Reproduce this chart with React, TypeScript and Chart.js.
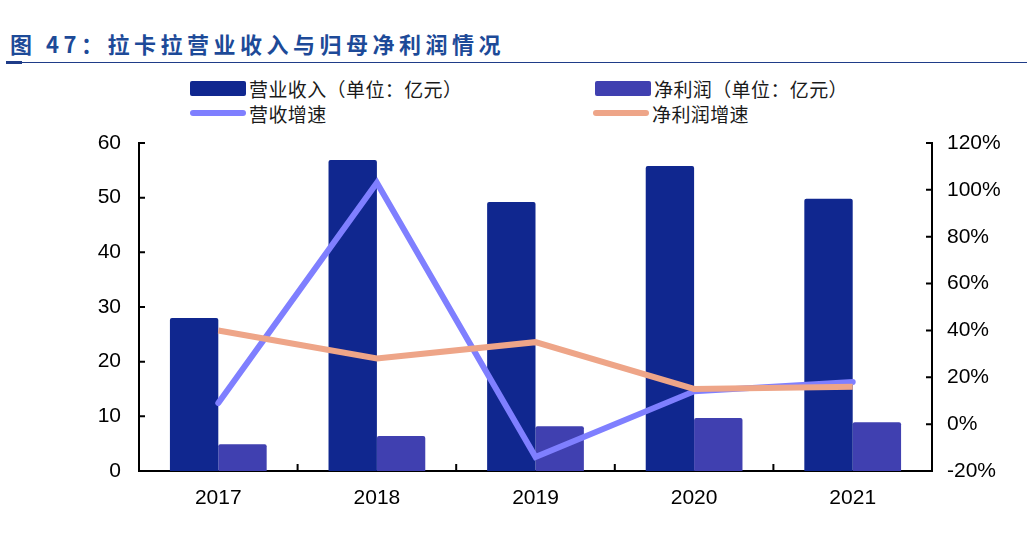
import React, { useRef, useEffect } from "react";
import { Chart, ChartConfiguration } from "chart.js/auto";

const years = ["2017", "2018", "2019", "2020", "2021"];
const revenue = [28.0, 56.9, 49.2, 55.8, 49.8];
const netProfit = [4.9, 6.4, 8.2, 9.7, 8.9];
const revenueGrowth = [9, 103, -14, 14, 18];
const profitGrowth = [40, 28, 35, 15, 16];

const leftTicks = { min: 0, max: 60, step: 10 };
const rightTicks = { min: -20, max: 120, step: 20 };

const tickFont = { family: "'Liberation Sans', Arial, sans-serif", size: 21 };
const cjk = "'Noto Sans CJK SC', 'Noto Sans', sans-serif";

const innerTicks = {
  id: "innerTicks",
  afterDraw(chart: Chart) {
    const { ctx, chartArea } = chart;
    const x = chart.scales.x;
    const y = chart.scales.y;
    const y1 = chart.scales.y1;
    ctx.save();
    ctx.strokeStyle = "#000";
    ctx.lineWidth = 2;
    ctx.beginPath();
    y.ticks.forEach((t) => {
      const py = y.getPixelForValue(t.value);
      ctx.moveTo(chartArea.left, py);
      ctx.lineTo(chartArea.left + 6, py);
    });
    y1.ticks.forEach((t) => {
      const py = y1.getPixelForValue(t.value);
      ctx.moveTo(chartArea.right, py);
      ctx.lineTo(chartArea.right - 6, py);
    });
    for (let i = 1; i < years.length; i++) {
      const px = (x.getPixelForTick(i - 1) + x.getPixelForTick(i)) / 2;
      ctx.moveTo(px, chartArea.bottom);
      ctx.lineTo(px, chartArea.bottom - 7);
    }
    ctx.stroke();
    ctx.restore();
  },
};

const LegendItem: React.FC<{ left: number; top: number; color: string; line?: boolean; label: string }> = ({
  left,
  top,
  color,
  line,
  label,
}) => (
  <div style={{ position: "absolute", left, top, display: "flex", alignItems: "center", height: 24 }}>
    <div
      style={{
        width: 56,
        height: line ? 6 : 15,
        background: color,
        borderRadius: line ? 3 : 2,
        marginRight: 3,
      }}
    />
    <span style={{ fontFamily: cjk, fontSize: 19, letterSpacing: 0.4, color: "#1a1a1a", whiteSpace: "nowrap" }}>
      {label}
    </span>
  </div>
);

const App: React.FC = () => {
  const chartRef = useRef<HTMLCanvasElement | null>(null);
  const chartInstanceRef = useRef<Chart | null>(null);

  useEffect(() => {
    if (!chartRef.current) return;
    const ctx = chartRef.current.getContext("2d");
    if (!ctx) return;
    if (chartInstanceRef.current) chartInstanceRef.current.destroy();

    const config: ChartConfiguration = {
      type: "bar",
      data: {
        labels: years,
        datasets: [
          {
            type: "bar",
            label: "营业收入（单位：亿元）",
            data: revenue,
            backgroundColor: "#10278F",
            yAxisID: "y",
            barPercentage: 1,
            categoryPercentage: 0.61,
            borderRadius: 2,
            order: 3,
          },
          {
            type: "bar",
            label: "净利润（单位：亿元）",
            data: netProfit,
            backgroundColor: "#4040B0",
            yAxisID: "y",
            barPercentage: 1,
            categoryPercentage: 0.61,
            borderRadius: 2,
            order: 3,
          },
          {
            type: "line",
            label: "营收增速",
            data: revenueGrowth,
            borderColor: "#7F7FFF",
            backgroundColor: "#7F7FFF",
            borderWidth: 6,
            borderCapStyle: "round",
            pointRadius: 0,
            tension: 0,
            yAxisID: "y1",
            order: 2,
          },
          {
            type: "line",
            label: "净利润增速",
            data: profitGrowth,
            borderColor: "#EEA588",
            backgroundColor: "#EEA588",
            borderWidth: 6,
            pointRadius: 0,
            tension: 0,
            yAxisID: "y1",
            order: 1,
          },
        ],
      },
      options: {
        animation: false,
        responsive: false,
        layout: { padding: { top: 143, bottom: 25, left: 0, right: 0 } },
        plugins: { legend: { display: false }, tooltip: { enabled: false } },
        scales: {
          x: {
            type: "category",
            grid: { display: false, drawTicks: false },
            border: { color: "#000", width: 2 },
            ticks: { color: "#000", font: tickFont, padding: 15 },
            afterFit: (s: any) => {
              s.height = 40;
            },
          },
          y: {
            position: "left",
            min: leftTicks.min,
            max: leftTicks.max,
            grid: { display: false, drawTicks: false },
            border: { color: "#000", width: 2 },
            ticks: { stepSize: leftTicks.step, color: "#000", font: tickFont, padding: 18 },
            afterFit: (s: any) => {
              s.width = 139;
            },
          },
          y1: {
            position: "right",
            min: rightTicks.min,
            max: rightTicks.max,
            grid: { display: false, drawTicks: false },
            border: { color: "#000", width: 2 },
            ticks: {
              stepSize: rightTicks.step,
              color: "#000",
              font: tickFont,
              padding: 15,
              callback: (v: any) => v + "%",
            },
            afterFit: (s: any) => {
              s.width = 95;
            },
          },
        },
      },
      plugins: [innerTicks],
    };
    chartInstanceRef.current = new Chart(ctx, config);
    return () => {
      if (chartInstanceRef.current) {
        chartInstanceRef.current.destroy();
        chartInstanceRef.current = null;
      }
    };
  }, []);

  return (
    <div style={{ position: "fixed", left: 0, top: 0, width: 1027, height: 536, background: "#fff", overflow: "hidden" }}>
      <div
        style={{
          position: "absolute",
          left: 10,
          top: 28,
          fontFamily: cjk,
          fontWeight: 700,
          fontSize: 22,
          letterSpacing: 4.5,
          color: "#1D4A98",
          whiteSpace: "nowrap",
          lineHeight: "30px",
        }}
      >
        图 47：拉卡拉营业收入与归母净利润情况
      </div>
      <div style={{ position: "absolute", left: 6, top: 62, width: 1021, height: 1, background: "#1F3C88" }} />
      <div style={{ position: "absolute", left: 6, top: 61, width: 16, height: 3, background: "#1F3C88" }} />
      <LegendItem left={190} top={76} color="#10278F" label="营业收入（单位：亿元）" />
      <LegendItem left={595} top={76} color="#4040B0" label="净利润（单位：亿元）" />
      <LegendItem left={190} top={101} color="#7F7FFF" line label="营收增速" />
      <LegendItem left={593} top={101} color="#EEA588" line label="净利润增速" />
      <canvas ref={chartRef} width={1027} height={536} style={{ position: "absolute", left: 0, top: 0 }} />
    </div>
  );
};

export default App;
